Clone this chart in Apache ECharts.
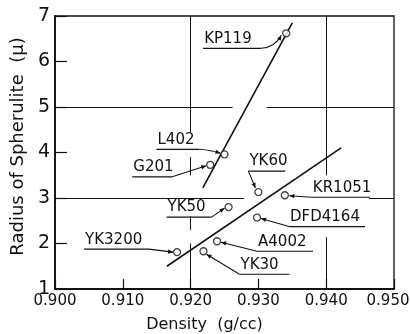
<!DOCTYPE html>
<html>
<head>
<meta charset="utf-8">
<script src="https://cdn.jsdelivr.net/npm/echarts@6/dist/echarts.min.js"></script>
<style>html,body{margin:0;padding:0;background:#fff}#c{width:410px;height:334px}</style>
</head>
<body>
<div id="c"></div>
<script>
// ---- data ----
const categories = ['KP119', 'L402', 'G201', 'YK60', 'KR1051', 'YK50', 'DFD4164', 'YK3200', 'A4002', 'YK30'];
const density = [0.9341, 0.9250, 0.9229, 0.9300, 0.9339, 0.9256, 0.9298, 0.9180, 0.9239, 0.9219];
const radius = [6.62, 3.96, 3.73, 3.13, 3.06, 2.80, 2.57, 1.81, 2.05, 1.83];
const steepFit = [[0.9218, 3.22], [0.9350, 6.85]];
const shallowFit = [[0.9165, 1.50], [0.9422, 4.10]];
const xTickLabels = ['0.900', '0.910', '0.920', '0.930', '0.940', '0.950'];
const yTickLabels = ['1', '2', '3', '4', '5', '6', '7'];
// grid line segments (with gaps as in the original print)
const hGrid = [
  { y: 5, spans: [[0.900, 0.9262], [0.9312, 0.950]] },
  { y: 3, spans: [[0.900, 0.9279], [0.9463, 0.950]] }
];
const vGrid = [
  { x: 0.920, spans: [[7, 4.45], [3.9, 3.5], [2.6, 2.3], [2.0, 1]] },
  { x: 0.940, spans: [[7, 3.5], [2.14, 1]] }
];
// ---- annotation layout (pixel offsets relative to each point) ----
const labelLayout = [
  { x1: -83, x2: -25, uy: 15, from: 'R', tip: [-5, 2], cp: [-11, 14] },
  { x1: -68, x2: -25, uy: -5, from: 'R', tip: [-4, -1], cp: [-13, -4] },
  { x1: -78, x2: -38, uy: 12, from: 'R', tip: [-4, 1] },
  { x1: -10, x2: 27, uy: -21, from: 'L', tip: [-3, -4] },
  { x1: 27, x2: 85, uy: 2, from: 'L', tip: [4.5, 0.5] },
  { x1: -62, x2: -17, uy: 10, from: 'R', tip: [-4, 1] },
  { x1: 32, x2: 108, uy: 9, from: 'L', tip: [4, 1] },
  { x1: -93, x2: -28, uy: -3, from: 'R', tip: [-4, 0] },
  { x1: 40, x2: 96, uy: 10, from: 'L', tip: [4, 1] },
  { x1: 36, x2: 86, uy: 23, from: 'L', tip: [3, 3] }
];

const FONT = 'DejaVu Sans';
const INK = '#111';

const gridMarkData = [];
hGrid.forEach(g => g.spans.forEach(s => gridMarkData.push([{ coord: [s[0], g.y] }, { coord: [s[1], g.y] }])));
vGrid.forEach(g => g.spans.forEach(s => gridMarkData.push([{ coord: [g.x, s[0]] }, { coord: [g.x, s[1]] }])));

const points = density.map((d, i) => [d, radius[i]]);

function arrowHead(tx, ty, sx, sy) {
  let dx = tx - sx, dy = ty - sy;
  const len = Math.sqrt(dx * dx + dy * dy) || 1;
  dx /= len; dy /= len;
  const px = -dy, py = dx, hl = 5, hw = 2.2;
  return {
    type: 'polygon',
    shape: { points: [[tx, ty], [tx - dx * hl + px * hw, ty - dy * hl + py * hw], [tx - dx * hl - px * hw, ty - dy * hl - py * hw]] },
    style: { fill: INK }
  };
}

const chart = echarts.init(document.getElementById('c'), null, { renderer: 'canvas' });
chart.setOption({
  animation: false,
  backgroundColor: '#fff',
  grid: { left: 55, right: 16, top: 16, bottom: 45, show: true, borderColor: INK, borderWidth: 1.3, backgroundColor: 'transparent', outerBoundsMode: 'none', containLabel: false },
  xAxis: {
    type: 'value', min: 0.900, max: 0.950, interval: 0.01,
    name: 'Density  (g/cc)', nameLocation: 'middle', nameGap: 28,
    nameTextStyle: { fontFamily: FONT, fontSize: 16, color: INK, padding: [0, 40, 0, 0] },
    axisLine: { lineStyle: { color: INK, width: 1.8 } },
    axisTick: { inside: true, length: 10, lineStyle: { color: INK, width: 1.2 } },
    axisLabel: {
      fontFamily: FONT, fontSize: 15, color: INK, margin: 5, hideOverlap: false,
      formatter: (v) => {
        const k = Math.round((v - 0.9) / 0.01);
        return k === xTickLabels.length - 1 ? '{last|' + xTickLabels[k] + '}' : xTickLabels[k];
      },
      rich: { last: { fontFamily: FONT, fontSize: 15, color: INK, padding: [0, 12, 0, 0] } }
    },
    splitLine: { show: false }
  },
  yAxis: {
    type: 'value', min: 1, max: 7, interval: 1,
    name: 'Radius of Spherulite  (\u03bc)', nameLocation: 'middle', nameGap: 28, nameRotate: 90,
    nameTextStyle: { fontFamily: FONT, fontSize: 18, color: INK, padding: [0, 0, 0, 12] },
    axisLine: { lineStyle: { color: INK, width: 1.8 } },
    axisTick: { inside: true, length: 12, lineStyle: { color: INK, width: 1.2 } },
    axisLabel: { fontFamily: FONT, fontSize: 19, color: INK, margin: 5, formatter: (v) => yTickLabels[Math.round(v - 1)] },
    splitLine: { show: false }
  },
  series: [
    {
      type: 'line', data: [], silent: true,
      markLine: { silent: true, symbol: 'none', label: { show: false }, lineStyle: { color: INK, width: 1, type: 'solid' }, data: gridMarkData }
    },
    { type: 'line', data: steepFit, symbol: 'none', lineStyle: { color: INK, width: 1.6 }, silent: true },
    { type: 'line', data: shallowFit, symbol: 'none', lineStyle: { color: INK, width: 1.6 }, silent: true },
    {
      type: 'scatter', data: points, symbol: 'circle', symbolSize: 7,
      itemStyle: { color: '#fff', borderColor: INK, borderWidth: 1.3 }, z: 5
    },
    {
      type: 'custom', data: points, clip: false, z: 4,
      encode: { x: 0, y: 1 },
      renderItem: function (params, api) {
        const i = params.dataIndex;
        const p = api.coord([api.value(0), api.value(1)]);
        const L = labelLayout[i];
        const ux1 = p[0] + L.x1, ux2 = p[0] + L.x2, uy = p[1] + L.uy;
        const sx = L.from === 'R' ? ux2 : ux1;
        const tx = p[0] + L.tip[0], ty = p[1] + L.tip[1];
        const children = [
          { type: 'text', style: { text: categories[i], x: ux1 + 1, y: uy - 2, font: '15px "' + FONT + '"', fill: INK, align: 'left', verticalAlign: 'bottom' } },
          { type: 'line', shape: { x1: ux1, y1: uy, x2: ux2, y2: uy }, style: { stroke: INK, lineWidth: 1.2 } }
        ];
        let bx = sx, by = uy;
        if (L.cp) {
          const cx = p[0] + L.cp[0], cy = p[1] + L.cp[1];
          children.push({ type: 'bezierCurve', shape: { x1: sx, y1: uy, x2: tx, y2: ty, cpx1: cx, cpy1: cy }, style: { stroke: INK, lineWidth: 1.1, fill: null } });
          bx = cx; by = cy;
        } else {
          children.push({ type: 'line', shape: { x1: sx, y1: uy, x2: tx, y2: ty }, style: { stroke: INK, lineWidth: 1.1 } });
        }
        children.push(arrowHead(tx, ty, bx, by));
        return { type: 'group', children: children };
      }
    }
  ]
});
</script>
</body>
</html>
